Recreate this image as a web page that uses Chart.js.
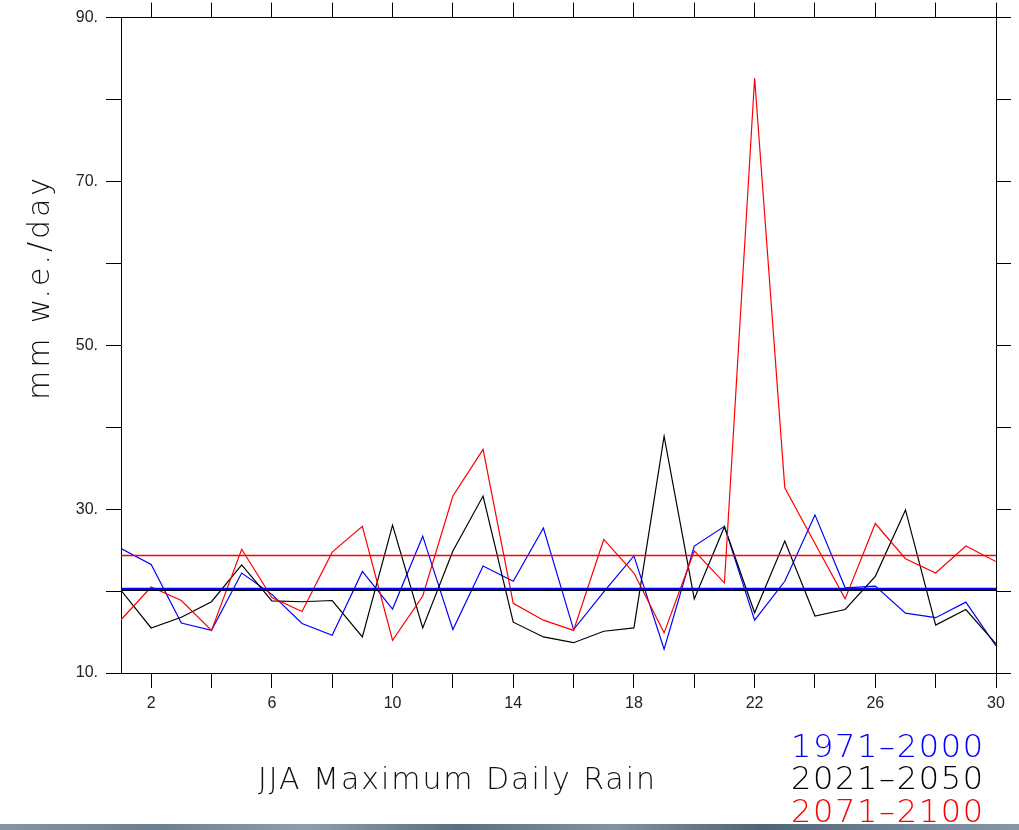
<!DOCTYPE html>
<html>
<head>
<meta charset="utf-8">
<script src="https://cdn.jsdelivr.net/npm/chart.js@4/dist/chart.umd.min.js"></script>
<style>
  html, body { margin: 0; padding: 0; background: #ffffff; }
  #wrap { position: relative; width: 1019px; height: 830px; overflow: hidden; }
  #c { position: absolute; left: 0; top: 0; }
  #strip { position: absolute; left: 0; top: 824px; width: 1019px; height: 6px;
    background: linear-gradient(to right, #8496a3 0%, #6a7f8f 15%, #8c9fac 30%, #5a7080 45%, #7f93a1 60%, #4f6474 75%, #72889a 90%, #8597a4 100%); }
</style>
</head>
<body>
<div id="wrap">
  <canvas id="c" width="1019" height="830"></canvas>
  <div id="strip"></div>
</div>
<script>
// ---- data ----
const days = [1,2,3,4,5,6,7,8,9,10,11,12,13,14,15,16,17,18,19,20,21,22,23,24,25,26,27,28,29,30];
const seriesNames = ['1971–2000', '2021–2050', '2071–2100'];
const rain1971 = [25.2,23.25,16.1,15.2,22.2,19.6,16.05,14.6,22.4,17.8,26.7,15.3,23.05,21.2,27.7,15.3,19.9,24.3,12.9,25.5,27.9,16.45,21.2,29.3,20.4,20.6,17.3,16.75,18.65,13.3];
const rain2021 = [20.1,15.5,16.8,18.7,23.2,18.8,18.7,18.85,14.4,28.05,15.5,24.9,31.6,16.2,14.4,13.7,15.1,15.5,38.9,19.05,27.85,17.35,26.1,16.95,17.75,21.8,29.9,15.85,17.75,13.55];
const rain2071 = [16.5,20.5,18.85,15.2,25.1,19.2,17.5,24.75,27.9,14.0,19.4,31.6,37.3,18.5,16.45,15.2,26.3,22.2,14.9,24.9,21.0,82.6,32.6,25.8,19.05,28.25,23.95,22.2,25.5,23.6];
const meanValues = [20.28, 20.12, 24.35];
const xTickValues = [2,4,6,8,10,12,14,16,18,20,22,24,26,28,30];
const xTickLabels = ['2','6','10','14','18','22','26','30'];
const yTickValues = [10,20,30,40,50,60,70,80,90];
const yTickLabels = ['10.','30.','50.','70.','90.'];
const yTitle = 'mm w.e./day';
const chartTitle = 'JJA Maximum Daily Rain';

// ---- styles ----
const colors = ['#0000ff', '#000000', '#ff0000'];
const seriesData = [rain1971, rain2021, rain2071];

function pts(arr) { return days.map((d, i) => ({ x: d, y: arr[i] })); }
function flat(v) { return [{ x: days[0], y: v }, { x: days[days.length - 1], y: v }]; }

const datasets = [];
[0, 1, 2].forEach(i => {
  datasets.push({
    label: seriesNames[i] + ' mean', data: flat(meanValues[i]),
    borderColor: colors[i], borderWidth: i === 2 ? 1.6 : 2,
    pointRadius: 0, tension: 0, order: i
  });
});
[0, 1, 2].forEach(i => {
  datasets.push({
    label: seriesNames[i], data: pts(seriesData[i]),
    borderColor: colors[i], borderWidth: 1.2,
    pointRadius: 0, tension: 0, order: [5, 4, 3][i]
  });
});

function xLabel(v) { const s = String(v); return xTickLabels.includes(s) ? s : ''; }
function yLabel(v) { const s = v + '.'; return yTickLabels.includes(s) ? s : ''; }
function setTicks(values) { return function (scale) { scale.ticks = values.map(v => ({ value: v })); }; }

const tickFont = { family: '"Liberation Sans", Arial, sans-serif', size: 16 };
const gridCfg = { display: true, drawOnChartArea: false, drawTicks: true, tickLength: 15, color: '#000', lineWidth: 1 };
const borderCfg = { display: true, color: '#000', width: 1 };
const textFamily = '"DejaVu Sans", "Liberation Sans", sans-serif';

const textPlugin = {
  id: 'texts',
  afterDraw(chart) {
    const ctx = chart.ctx;
    function fitted(text, x, y, targetW, font, color, align, rotate) {
      ctx.save();
      ctx.font = font;
      ctx.letterSpacing = '0px';
      const w = ctx.measureText(text).width;
      const ls = (targetW - w) / (text.length - 1);
      ctx.letterSpacing = ls + 'px';
      ctx.fillStyle = color;
      ctx.textAlign = 'left';
      ctx.textBaseline = 'alphabetic';
      if (rotate) {
        ctx.translate(x, y);
        ctx.rotate(-Math.PI / 2);
        ctx.fillText(text, -targetW / 2, 0);
      } else {
        const left = align === 'right' ? x - targetW : x;
        ctx.fillText(text, left, y);
      }
      ctx.restore();
    }
    fitted(yTitle, 49, 289, 222, '200 30px ' + textFamily, '#111', 'left', true);
    fitted(chartTitle, 258, 789, 397, '200 30px ' + textFamily, '#111', 'left', false);
    const bases = [757, 789, 822];
    seriesNames.forEach((n, i) => {
      fitted(n, 983, bases[i], 192, '200 32px ' + textFamily, colors[i], 'right', false);
    });
  }
};

new Chart(document.getElementById('c'), {
  type: 'line',
  data: { datasets },
  options: {
    responsive: false,
    animation: false,
    devicePixelRatio: 1,
    layout: { padding: 0 },
    plugins: { legend: { display: false }, tooltip: { enabled: false }, title: { display: false } },
    scales: {
      x: {
        type: 'linear', position: 'bottom', min: 1, max: 30,
        afterBuildTicks: setTicks(xTickValues),
        afterFit(s) { s.height = 157; },
        ticks: { autoSkip: false, maxRotation: 0, padding: 6, color: '#222', font: tickFont, callback: v => xLabel(v) },
        grid: gridCfg, border: borderCfg
      },
      x2: {
        type: 'linear', position: 'top', min: 1, max: 30,
        afterBuildTicks: setTicks(xTickValues),
        afterFit(s) { s.height = 17; },
        ticks: { autoSkip: false, maxRotation: 0, callback: () => '' },
        grid: gridCfg, border: borderCfg
      },
      y: {
        type: 'linear', position: 'left', min: 10, max: 90,
        afterBuildTicks: setTicks(yTickValues),
        afterFit(s) { s.width = 121; },
        ticks: { autoSkip: false, padding: 8, color: '#222', font: tickFont, callback: v => yLabel(v) },
        grid: gridCfg, border: borderCfg
      },
      y2: {
        type: 'linear', position: 'right', min: 10, max: 90,
        afterBuildTicks: setTicks(yTickValues),
        afterFit(s) { s.width = 23; },
        ticks: { autoSkip: false, callback: () => '' },
        grid: gridCfg, border: borderCfg
      }
    }
  },
  plugins: [textPlugin]
});
</script>
</body>
</html>
